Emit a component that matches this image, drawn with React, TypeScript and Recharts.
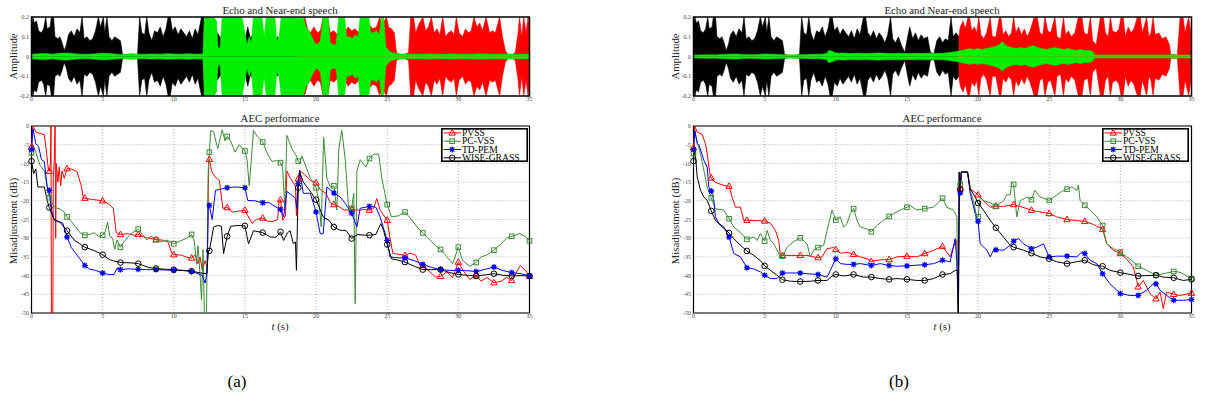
import React from 'react';
import {
  AreaChart,
  Area,
  LineChart,
  Line,
  XAxis,
  YAxis,
  CartesianGrid,
  ReferenceArea,
  Legend,
} from 'recharts';

type Pt = [number, number];

// tick labels
const timeTicks = [0, 5, 10, 15, 20, 25, 30, 35];
const ampTicks = [-0.2, -0.1, 0, 0.1, 0.2];
const dbTicks = [-50, -45, -40, -35, -30, -25, -20, -15, -10, -5, 0];

// waveform envelopes: [time (s), peak amplitude]
// echo before the path change (black), same in (a) and (b)
const echoEarly: Pt[] = [
  [0, 0.15], [0.1, 0.2], [0.2, 0.17], [0.35, 0.18], [0.5, 0.13], [0.7, 0.12], [0.85, 0.14], [1.0, 0.2],
  [1.1, 0.14], [1.3, 0.15], [1.4, 0.2], [1.55, 0.2], [1.65, 0.1], [1.85, 0.09], [2.0, 0.1], [2.15, 0.07],
  [2.3, 0.03], [2.45, 0.06], [2.6, 0.11], [2.8, 0.13], [3.0, 0.1], [3.2, 0.14], [3.4, 0.12], [3.55, 0.2],
  [3.7, 0.09], [3.9, 0.1], [4.1, 0.08], [4.3, 0.09], [4.5, 0.13], [4.7, 0.2], [4.85, 0.15], [5.05, 0.2],
  [5.15, 0.12], [5.3, 0.2], [5.45, 0.1], [5.65, 0.08], [5.85, 0.1], [6.05, 0.09], [6.25, 0.08], [6.4, 0.01],
  [6.75, 0.005], [7.1, 0.005], [7.45, 0.01], [7.6, 0.2], [7.75, 0.12], [7.95, 0.11], [8.1, 0.2], [8.25, 0.12],
  [8.45, 0.08], [8.65, 0.13], [8.85, 0.12], [9.05, 0.15], [9.25, 0.1], [9.45, 0.14], [9.6, 0.2], [9.75, 0.2],
  [9.9, 0.13], [10.1, 0.15], [10.3, 0.11], [10.5, 0.14], [10.7, 0.12], [10.9, 0.1], [11.1, 0.13], [11.3, 0.09],
  [11.5, 0.14], [11.7, 0.11], [11.95, 0.2], [12.1, 0.2], [12.25, 0.12], [12.45, 0.1], [12.65, 0.13], [12.85, 0.09],
  [13.05, 0.12], [13.25, 0.1], [13.45, 0.07], [13.65, 0.11], [13.85, 0.2], [14.0, 0.09], [14.2, 0.07], [14.4, 0.1],
  [14.6, 0.06], [14.85, 0.02], [15.05, 0.1], [15.2, 0.15], [15.4, 0.09], [15.6, 0.12], [15.8, 0.08], [16.0, 0.11],
  [16.2, 0.09], [16.45, 0.1], [16.65, 0.02], [16.9, 0.015], [17.1, 0.08], [17.3, 0.1], [17.5, 0.07], [17.7, 0.09],
  [17.9, 0.08], [18.1, 0.2], [18.25, 0.1], [18.45, 0.12], [18.65, 0.1],
];

// echo after the path change (red)
const echoLateA: Pt[] = [
  [18.65, 0.1], [18.85, 0.15], [19.05, 0.17], [19.2, 0.2], [19.4, 0.14], [19.6, 0.12], [19.85, 0.15], [20.1, 0.12],
  [20.3, 0.13], [20.5, 0.2], [20.65, 0.14], [20.8, 0.2], [21.0, 0.12], [21.25, 0.13], [21.5, 0.11], [21.75, 0.13],
  [22.0, 0.12], [22.25, 0.15], [22.5, 0.13], [22.75, 0.14], [23.0, 0.12], [23.25, 0.15], [23.5, 0.13], [23.75, 0.16],
  [24.0, 0.14], [24.25, 0.15], [24.47, 0.2], [24.65, 0.15], [24.8, 0.18], [24.95, 0.2], [25.1, 0.15], [25.3, 0.14],
  [25.5, 0.12], [25.65, 0.02], [25.9, 0.01], [26.2, 0.01], [26.5, 0.02], [26.65, 0.2], [26.85, 0.2], [27.0, 0.12],
  [27.2, 0.16], [27.5, 0.2], [27.7, 0.13], [27.9, 0.15], [28.1, 0.2], [28.3, 0.12], [28.5, 0.14], [28.7, 0.11],
  [28.9, 0.2], [29.1, 0.1], [29.3, 0.12], [29.5, 0.13], [29.7, 0.11], [29.86, 0.2], [30.05, 0.12], [30.3, 0.1],
  [30.5, 0.14], [30.7, 0.12], [30.9, 0.13], [31.1, 0.2], [31.3, 0.15], [31.5, 0.17], [31.7, 0.13], [31.95, 0.2],
  [32.2, 0.12], [32.4, 0.13], [32.6, 0.12], [32.9, 0.2], [33.1, 0.1], [33.3, 0.03], [33.5, 0.01], [33.8, 0.01],
  [34.0, 0.02], [34.2, 0.12], [34.3, 0.2], [34.45, 0.1], [34.6, 0.2], [34.75, 0.12], [34.9, 0.2], [35, 0.15],
];

const echoLateB: Pt[] = [
  [18.65, 0.1], [18.75, 0.15], [18.95, 0.18], [19.1, 0.14], [19.3, 0.2], [19.4, 0.2], [19.55, 0.13], [19.75, 0.15],
  [19.9, 0.12], [20.05, 0.2], [20.2, 0.11], [20.4, 0.09], [20.6, 0.12], [20.85, 0.2], [21.0, 0.1], [21.25, 0.1],
  [21.5, 0.2], [21.6, 0.2], [21.75, 0.11], [21.95, 0.13], [22.15, 0.1], [22.35, 0.12], [22.5, 0.2], [22.65, 0.12],
  [22.85, 0.15], [23.05, 0.11], [23.25, 0.14], [23.45, 0.1], [23.65, 0.13], [23.95, 0.2], [24.15, 0.2], [24.35, 0.12],
  [24.55, 0.11], [24.7, 0.2], [24.9, 0.13], [25.1, 0.12], [25.4, 0.2], [25.55, 0.1], [25.8, 0.09], [26.0, 0.2],
  [26.15, 0.11], [26.35, 0.13], [26.55, 0.1], [26.8, 0.12], [27.05, 0.2], [27.3, 0.2], [27.45, 0.12], [27.7, 0.11],
  [27.9, 0.2], [28.05, 0.08], [28.3, 0.06], [28.6, 0.2], [28.8, 0.2], [28.95, 0.12], [29.15, 0.1], [29.3, 0.2],
  [29.45, 0.13], [29.7, 0.12], [29.9, 0.14], [30.05, 0.2], [30.2, 0.2], [30.35, 0.1], [30.55, 0.15], [30.75, 0.12],
  [30.95, 0.14], [31.2, 0.2], [31.4, 0.2], [31.55, 0.12], [31.85, 0.2], [32.0, 0.1], [32.15, 0.12], [32.3, 0.2],
  [32.45, 0.11], [32.7, 0.12], [32.95, 0.09], [33.2, 0.1], [33.45, 0.06], [33.55, 0.006], [33.75, 0.012], [34.0, 0.006],
  [34.2, 0.2], [34.4, 0.2], [34.55, 0.12], [34.8, 0.2], [35, 0.1],
];

// near-end speech (green)
const nearEndA: Pt[] = [
  [0, 0.012], [0.5, 0.014], [1, 0.015], [1.5, 0.012], [2, 0.016], [2.5, 0.018], [3, 0.014], [3.5, 0.012],
  [4, 0.011], [4.5, 0.014], [5, 0.017], [5.5, 0.015], [6, 0.012], [6.5, 0.01], [7, 0.015], [7.5, 0.012],
  [8, 0.011], [8.5, 0.013], [9, 0.012], [9.5, 0.014], [10, 0.013], [10.5, 0.012], [11, 0.014], [11.5, 0.012],
  [12.05, 0.013], [12.15, 0.2], [12.4, 0.2], [12.6, 0.2], [12.8, 0.2], [13.0, 0.18], [13.1, 0.05], [13.25, 0.04],
  [13.4, 0.2], [13.6, 0.2], [13.8, 0.2], [14.0, 0.2], [14.2, 0.2], [14.4, 0.2], [14.6, 0.2], [14.8, 0.2],
  [15.0, 0.12], [15.15, 0.06], [15.3, 0.1], [15.45, 0.07], [15.6, 0.2], [15.8, 0.2], [16.0, 0.2], [16.2, 0.2],
  [16.35, 0.1], [16.5, 0.2], [16.7, 0.2], [16.9, 0.2], [17.1, 0.2], [17.25, 0.08], [17.4, 0.1], [17.55, 0.2],
  [17.75, 0.2], [17.95, 0.2], [18.15, 0.2], [18.35, 0.2], [18.55, 0.2], [18.75, 0.2], [18.95, 0.2], [19.1, 0.2],
  [19.3, 0.15], [19.5, 0.13], [19.7, 0.1], [19.9, 0.07], [20.1, 0.06], [20.3, 0.08], [20.5, 0.2], [20.7, 0.2],
  [20.85, 0.2], [21.0, 0.07], [21.2, 0.06], [21.4, 0.06], [21.6, 0.2], [21.8, 0.2], [22.0, 0.2], [22.15, 0.1],
  [22.35, 0.1], [22.55, 0.09], [22.75, 0.11], [22.95, 0.1], [23.1, 0.2], [23.3, 0.2], [23.5, 0.2], [23.7, 0.2],
  [23.85, 0.12], [24.05, 0.12], [24.25, 0.13], [24.45, 0.11], [24.6, 0.2], [24.75, 0.2], [24.9, 0.05], [25.1, 0.03],
  [25.3, 0.02], [25.6, 0.015], [26, 0.013], [26.5, 0.012], [27, 0.012], [27.5, 0.011], [28, 0.013], [28.5, 0.012],
  [29, 0.011], [29.5, 0.013], [30, 0.012], [30.5, 0.011], [31, 0.012], [31.5, 0.013], [32, 0.012], [32.5, 0.011],
  [33, 0.012], [33.5, 0.013], [34, 0.012], [34.5, 0.011], [35, 0.012],
];

const nearEndB: Pt[] = [
  [0, 0.007], [0.5, 0.008], [1, 0.009], [1.5, 0.008], [2, 0.01], [2.5, 0.012], [3, 0.013], [3.5, 0.01],
  [4, 0.009], [4.5, 0.01], [5, 0.013], [5.5, 0.012], [6, 0.01], [6.5, 0.008], [7, 0.009], [7.5, 0.009],
  [8, 0.01], [8.5, 0.011], [9, 0.012], [9.35, 0.015], [9.5, 0.03], [9.7, 0.028], [9.9, 0.02], [10.2, 0.016],
  [10.5, 0.018], [11, 0.015], [11.5, 0.017], [12, 0.015], [12.5, 0.016], [13, 0.018], [13.5, 0.016], [14, 0.015],
  [14.5, 0.017], [15, 0.015], [15.5, 0.016], [16, 0.015], [16.5, 0.017], [17, 0.015], [17.5, 0.016], [18, 0.02],
  [18.5, 0.025], [18.8, 0.03], [19.1, 0.035], [19.4, 0.04], [19.7, 0.035], [20.0, 0.04], [20.3, 0.035], [20.6, 0.04],
  [20.9, 0.045], [21.2, 0.05], [21.5, 0.06], [21.7, 0.075], [21.9, 0.06], [22.1, 0.05], [22.4, 0.045], [22.7, 0.04],
  [23.0, 0.045], [23.3, 0.04], [23.6, 0.05], [23.9, 0.055], [24.2, 0.045], [24.5, 0.04], [24.8, 0.035], [25.1, 0.04],
  [25.4, 0.045], [25.7, 0.04], [26.0, 0.035], [26.3, 0.04], [26.6, 0.035], [26.9, 0.03], [27.2, 0.035], [27.5, 0.03],
  [27.8, 0.03], [28.05, 0.025], [28.2, 0.007], [29, 0.007], [30, 0.007], [31, 0.007], [32, 0.007], [33, 0.007],
  [33.7, 0.008], [33.8, 0.012], [34, 0.007], [35, 0.007],
];

// misadjustment (dB) per algorithm, panel (a)
const pvssA: Pt[] = [
  [0, -5.6], [0.1, 0], [0.3, -1.6], [0.6, -2], [0.9, -2.3], [1.05, -7], [1.2, -12], [1.25, -12.1], [1.33, -10],
  [1.37, 0], [1.4, -50], [1.5, -50], [1.53, -14], [1.6, -9], [1.66, 0], [1.7, -30], [1.74, -10], [1.85, -15],
  [1.95, -11], [2.05, -16], [2.15, -12], [2.3, -14], [2.5, -11.4], [2.8, -11.5], [3.2, -12.2], [3.5, -16],
  [3.65, -19.4], [3.75, -19.3], [4.2, -19.6], [4.6, -19.8], [5, -20], [5.4, -20.8], [5.75, -22], [5.95, -28.5],
  [6.25, -29], [6.8, -28.8], [7.2, -29.2], [7.5, -29], [8, -29.8], [8.5, -30.2], [8.75, -30.4], [9.2, -30.5],
  [9.6, -31], [9.85, -34], [10, -34.4], [10.5, -34.5], [11, -35.2], [11.25, -35.3], [11.5, -34.5], [11.7, -36.8],
  [11.85, -35], [12, -38.5], [12.2, -36], [12.35, -38], [12.45, -10], [12.5, -8.9], [12.65, -12], [12.9, -13.6],
  [13.2, -14.5], [13.45, -22], [13.75, -21.8], [14.1, -23], [14.5, -22.8], [15, -22.5], [15.2, -24], [15.5, -26],
  [15.8, -25], [16.25, -24.6], [16.6, -25.5], [17, -25.5], [17.3, -25], [17.4, -19.9], [17.5, -19.7], [17.65, -25.2],
  [17.85, -24], [17.95, -12], [18.2, -14], [18.55, -16], [18.62, -24], [18.68, -18], [18.75, -14.1], [18.85, -11.9],
  [19.2, -13], [19.6, -14.5], [20, -15.2], [20.3, -17], [20.7, -18], [21, -20.5], [21.25, -21], [21.6, -21.5],
  [22, -22.5], [22.5, -22.3], [23, -22.5], [23.4, -22.3], [23.75, -22.5], [24.05, -22], [24.27, -19.4], [24.5, -22.5],
  [25, -25.2], [25.2, -30], [25.4, -34.1], [25.8, -34.3], [26.25, -34.6], [26.6, -34], [27, -34.5], [27.3, -37.3],
  [27.5, -37.3], [28, -39], [28.4, -40.4], [28.75, -40.2], [29.2, -39], [29.6, -40.5], [30, -36.4], [30.4, -39],
  [30.8, -41], [31.25, -40], [31.6, -41.5], [32, -40.5], [32.5, -41.9], [33, -41.5], [33.4, -40.5], [33.75, -41.3],
  [34.1, -39], [34.35, -37.3], [34.7, -38.5], [35, -40.2],
];

const pcvssA: Pt[] = [
  [0, -7.2], [0.1, -5], [0.3, -7], [0.6, -10.5], [0.9, -12], [1.1, -16], [1.25, -19.2], [1.6, -21.7], [2, -22.2],
  [2.3, -23], [2.5, -24.3], [2.8, -25.5], [3.1, -27], [3.4, -28.5], [3.75, -29.2], [4.1, -29], [4.4, -28.5],
  [4.7, -29.5], [5, -29.2], [5.2, -28], [5.35, -25.7], [5.5, -29.5], [5.7, -30], [5.85, -33], [6, -30.5],
  [6.25, -32.4], [6.5, -31], [6.8, -29.5], [7.1, -28.5], [7.5, -27.6], [7.8, -29], [8.1, -30.5], [8.4, -29.5],
  [8.75, -30.4], [9.1, -31], [9.5, -30.5], [10, -31.5], [10.3, -31], [10.6, -30.5], [10.9, -30], [11.25, -29],
  [11.45, -31], [11.6, -37], [11.7, -32], [11.85, -40], [11.95, -46.6], [12.05, -33], [12.15, -50], [12.3, -50],
  [12.42, -12], [12.5, -7], [12.6, -1.2], [12.8, -1.5], [12.95, -4], [13.1, -6], [13.4, -1], [13.6, -4],
  [13.75, -2.8], [14, -4], [14.3, -7], [14.6, -5], [15, -6.7], [15.15, -9], [15.3, -16], [15.45, -9], [15.6, -1.2],
  [15.9, -3], [16.25, -4.3], [16.6, -7.5], [16.9, -9.5], [17.2, -9.2], [17.5, -9.8], [17.65, -11], [17.8, -21.7],
  [17.95, -2.5], [18.3, -6], [18.62, -8], [18.75, -9.4], [18.85, -10], [19, -8], [19.3, -11], [19.6, -14],
  [20, -16.5], [20.2, -20], [20.36, -27], [20.53, -3], [20.76, -14], [21, -16.3], [21.25, -16], [21.46, -22.5],
  [21.6, -6], [21.81, -1.2], [22.05, -9], [22.28, -21.7], [22.5, -22], [22.65, -18], [22.75, -47.5], [22.87, -12],
  [23.1, -9], [23.5, -11], [23.75, -8.7], [24.05, -7.5], [24.4, -7.5], [24.62, -14], [25, -21], [25.3, -24.3],
  [25.8, -24], [26.25, -23], [26.7, -25], [27.1, -27], [27.5, -28.6], [28, -30.5], [28.4, -32], [28.75, -33],
  [29.2, -35], [29.6, -36.8], [30, -32.4], [30.3, -36], [30.8, -37.5], [31.25, -36.5], [31.6, -35], [32, -34.5],
  [32.5, -33.2], [33, -31.5], [33.4, -30], [33.75, -29.5], [34.3, -28.8], [34.7, -29.5], [35, -30.7],
];

const tdpemA: Pt[] = [
  [0, -6.3], [0.1, -0.7], [0.3, -4.7], [0.5, -5.5], [0.7, -9], [0.9, -9.5], [1.1, -16.3], [1.25, -17.2],
  [1.4, -22.5], [1.6, -25], [1.9, -25.5], [2.2, -26], [2.5, -29.7], [2.8, -32.5], [3.1, -34], [3.4, -35.5],
  [3.75, -37.3], [4.1, -38.3], [4.5, -38.6], [5, -39.3], [5.4, -39.7], [5.8, -39.7], [6, -38], [6.25, -38.4],
  [6.8, -38.2], [7.5, -38.3], [8.1, -38.4], [8.75, -38.4], [9.4, -38.5], [10, -38.6], [10.6, -38.6], [11.25, -38.9],
  [11.7, -39.5], [12, -40], [12.2, -42], [12.35, -39], [12.42, -21.7], [12.5, -21.2], [12.7, -25], [12.93, -17.2],
  [13.4, -16.8], [13.75, -16.5], [14.3, -16.3], [15, -16.5], [15.2, -19.9], [15.7, -20], [16.25, -20.5], [16.7, -20.5],
  [17.1, -21.5], [17.5, -22.3], [17.72, -24.3], [17.95, -17.5], [18.3, -18.5], [18.55, -19.4], [18.65, -22],
  [18.75, -15.4], [18.85, -11.9], [19.1, -18], [19.6, -18], [20, -23], [20.29, -28.8], [20.5, -28.8], [20.76, -16.3],
  [21.25, -17.9], [21.7, -19], [22.1, -21], [22.5, -23.3], [22.87, -27], [23.1, -22], [23.75, -21.5], [24.2, -21.7],
  [24.5, -24.3], [25, -30.6], [25.2, -35], [25.6, -35.2], [26.25, -35.3], [26.9, -36], [27.5, -37], [28.1, -37.8],
  [28.75, -38.4], [29.4, -38.6], [30, -38.6], [30.6, -38.7], [31.25, -38.9], [31.9, -38.3], [32.5, -37.7],
  [33.1, -38.6], [33.75, -39.2], [34.4, -39.5], [35, -40.1],
];

const wiseA: Pt[] = [
  [0, -9.4], [0.15, -12.7], [0.3, -11.5], [0.45, -16.3], [0.9, -16.3], [1.1, -19.9], [1.25, -21.8], [1.6, -25.2],
  [2, -25.7], [2.5, -28], [3, -30.5], [3.4, -31.5], [3.75, -32.4], [4.4, -33.3], [5, -34.4], [5.5, -35.8],
  [6.25, -36.5], [7, -36.6], [7.5, -36.8], [8.2, -37.8], [8.75, -38.1], [9.4, -38.3], [10, -38.4], [10.6, -38.6],
  [11.25, -38.8], [11.9, -39.3], [12.3, -39.5], [12.45, -33.2], [12.5, -33.4], [12.8, -27], [13.1, -26.6],
  [13.35, -26.8], [13.5, -34.1], [13.75, -29.5], [14, -26.8], [14.5, -26.6], [15, -26.7], [15.25, -31.5], [15.6, -28],
  [16.25, -28.5], [16.8, -29.7], [17.2, -29.7], [17.5, -28.3], [17.72, -30.6], [18, -28.5], [18.18, -28], [18.4, -31.5],
  [18.55, -31], [18.62, -38.6], [18.7, -24], [18.75, -16.5], [18.85, -12.3], [19.1, -15], [19.5, -17], [20, -19.7],
  [20.5, -24.3], [20.9, -25.2], [21.25, -27], [21.7, -27.9], [22.1, -27.9], [22.5, -30.1], [22.9, -29], [23.4, -29.2],
  [23.75, -29.2], [24.2, -29], [24.55, -26.1], [24.75, -28], [25, -31.7], [25.3, -35.5], [25.7, -35.8], [26.25, -36.4],
  [26.9, -37.5], [27.5, -38.4], [28.1, -38.4], [28.75, -38.4], [29.4, -39.2], [30, -39.7], [30.6, -39.9],
  [31.25, -40.1], [31.9, -39.8], [32.5, -39.5], [33.1, -39.9], [33.75, -40.1], [34.4, -40], [35, -40.1],
];

// misadjustment (dB) per algorithm, panel (b)
const pvssB: Pt[] = [
  [0, -5.8], [0.09, 0], [0.26, -1.6], [0.6, -2.2], [0.84, -4.7], [0.96, -7.5], [1.19, -13.6], [1.25, -13.9],
  [1.5, -15], [2.2, -16], [2.5, -16.1], [2.71, -19], [2.95, -21.7], [3.3, -21.7], [3.53, -25.2], [3.75, -25.2],
  [4.4, -25.3], [5, -25.4], [5.41, -26], [5.76, -27.9], [5.99, -30.6], [6.11, -34.6], [6.25, -34.6], [6.9, -34.6],
  [7.5, -34.6], [7.98, -34.6], [8.45, -35], [8.75, -35.2], [9.03, -35], [9.38, -32.8], [9.85, -32.5], [10, -33],
  [10.32, -34], [10.8, -33.8], [11.25, -34.3], [11.72, -35], [12.2, -35.5], [12.5, -36.2], [13.1, -35.8],
  [13.75, -35.7], [14.3, -35], [15, -34.8], [15.7, -35], [16.25, -34.1], [16.9, -33.2], [17.5, -32.2], [18.04, -35],
  [18.28, -32.2], [18.51, -30.6], [18.6, -50], [18.68, -12.3], [18.75, -16.8], [18.82, -12.3], [19.26, -12.3],
  [19.45, -16.8], [20, -18.4], [20.5, -20.5], [20.85, -21.7], [21.25, -21.4], [21.79, -21.5], [22.5, -21],
  [22.96, -21.5], [23.75, -22.5], [24.36, -23], [25, -23.4], [25.53, -24.3], [26.25, -25], [26.94, -25.3],
  [27.5, -25.5], [28.1, -26.3], [28.34, -26.8], [28.75, -27.6], [29.04, -31.5], [29.51, -33.2], [30, -34.1],
  [30.45, -35.6], [30.91, -37.7], [31.15, -41.3], [31.25, -43], [31.62, -41.3], [32.08, -44.8], [32.5, -46.2],
  [32.79, -44.4], [33.02, -48.8], [33.25, -44.4], [33.75, -45], [34.19, -45.3], [35, -44.7],
];

const pcvssB: Pt[] = [
  [0, -7.4], [0.09, -1.2], [0.26, -4.3], [0.49, -7.4], [0.73, -11.9], [0.96, -16.3], [1.25, -19.2], [1.54, -22.1],
  [2.13, -22.5], [2.5, -24.8], [2.83, -27], [3.3, -28.5], [3.75, -30.3], [4.24, -29.7], [4.47, -30.6], [4.7, -28.8],
  [5, -30.8], [5.17, -27.9], [5.41, -30.6], [5.64, -31.5], [5.87, -33.2], [6.11, -35], [6.25, -34.8], [6.58, -32.4],
  [7, -31], [7.5, -29.9], [7.98, -31.5], [8.21, -35], [8.45, -33.2], [8.75, -32.5], [9.15, -31.9], [9.5, -26.1],
  [9.74, -22.5], [10, -25.2], [10.32, -24.3], [10.55, -27], [10.79, -26.1], [11.02, -23.4], [11.25, -22.1],
  [11.49, -25.2], [11.72, -27], [12.19, -27.5], [12.5, -28.3], [12.9, -26.6], [13.36, -25.2], [13.75, -24.2],
  [14.06, -23.4], [14.53, -22.5], [15, -21.7], [15.25, -21.3], [15.7, -22.5], [16.25, -22.1], [16.87, -21.7],
  [17.5, -19.3], [17.8, -21.7], [18.28, -22.5], [18.51, -24.3], [18.6, -50], [18.68, -12.3], [18.75, -15.6],
  [18.82, -12.3], [19.26, -12.3], [19.45, -17.5], [19.68, -20], [19.9, -24.3], [20, -24.3], [20.15, -19],
  [20.38, -20], [20.85, -20.5], [21.25, -21.5], [21.79, -20], [22.02, -18.4], [22.26, -18.4], [22.37, -15],
  [22.5, -15.6], [22.72, -24.3], [22.96, -20], [23.43, -19], [23.75, -19.7], [24, -17.2], [24.36, -19], [25, -19.9],
  [25.53, -18.4], [25.88, -17.5], [26.25, -16.9], [26.59, -16.3], [26.94, -17.2], [27.05, -15.8], [27.17, -19.9],
  [27.5, -21.2], [27.87, -22.5], [28.34, -24.3], [28.75, -26.6], [29.04, -31.5], [29.51, -32.8], [30, -33.7],
  [30.45, -35], [30.91, -36.3], [31.25, -37.5], [31.85, -38.6], [32.5, -39.9], [33.02, -39.5], [33.75, -38.9],
  [34.19, -39.1], [35, -40.8],
];

const tdpemB: Pt[] = [
  [0, -6.3], [0.09, -1.2], [0.26, -4.7], [0.4, -5.2], [0.73, -9.2], [0.96, -11], [1.08, -16.3], [1.25, -17.4],
  [1.43, -19.9], [1.54, -24.3], [1.78, -26], [2.13, -27], [2.5, -29.7], [2.83, -34.1], [3.3, -35], [3.75, -37.9],
  [4.24, -38.2], [4.7, -39], [5, -39.9], [5.41, -40.8], [5.87, -40.8], [6.25, -39.3], [6.81, -39.3], [7.5, -39.3],
  [7.98, -39.5], [8.75, -39.7], [9.38, -40.4], [9.62, -38.6], [10, -35.5], [10.32, -36.8], [10.8, -37], [11.25, -37],
  [11.72, -36.8], [12.5, -37.3], [13.13, -36.8], [13.75, -37.3], [14.3, -37.5], [15, -37.4], [15.7, -37.2],
  [16.25, -37.1], [16.87, -36.8], [17.5, -35.9], [18.04, -36.3], [18.39, -30.1], [18.5, -36], [18.62, -50],
  [18.68, -12.3], [18.75, -17.9], [18.82, -12.3], [19.26, -12.3], [19.45, -18], [19.8, -23.4], [20, -25.5],
  [20.15, -31.5], [20.62, -33.2], [20.85, -35], [21.09, -33.2], [21.25, -33.1], [21.79, -33.2], [22.26, -31.9],
  [22.5, -30.8], [22.84, -30.1], [23.19, -31.5], [23.75, -32.8], [24.13, -32.4], [24.6, -31.5], [25, -35],
  [25.53, -34.8], [26.25, -34.8], [26.94, -35], [27.29, -33.7], [27.5, -34.1], [27.87, -35.9], [28.34, -36.8],
  [28.75, -39.5], [29.27, -42.2], [30, -44.8], [30.68, -45.3], [31.25, -45.3], [31.85, -43.9], [32.32, -42.2],
  [32.5, -42.2], [32.79, -43.9], [33.25, -45.3], [33.75, -46.6], [34.42, -46.6], [35, -46.4],
];

const wiseB: Pt[] = [
  [0, -9.4], [0.09, -5.6], [0.26, -13.6], [0.49, -17.2], [0.73, -19], [0.96, -19.9], [1.25, -22.7], [1.54, -25.2],
  [1.9, -26.6], [2.5, -28.6], [2.83, -30.1], [3.3, -31.9], [3.75, -33.4], [4.24, -34.6], [4.7, -36], [5, -37.4],
  [5.41, -38.6], [5.87, -39.9], [6.25, -41.1], [6.81, -41.5], [7.5, -41.6], [8.21, -41.5], [8.75, -41.3],
  [9.38, -41.3], [9.74, -40.1], [10, -39.7], [10.55, -40.1], [11.25, -39.7], [11.96, -40.4], [12.5, -40.4],
  [13.13, -40.8], [13.75, -41], [14.3, -40.8], [15, -41], [15.7, -41.3], [16.25, -41.3], [16.87, -40.8],
  [17.5, -39.7], [18.04, -39.5], [18.39, -38.6], [18.55, -38.6], [18.62, -50], [18.68, -12.3], [18.75, -16.9],
  [18.82, -12.3], [19.26, -12.3], [19.45, -16.8], [19.8, -19], [20, -20.6], [20.38, -22.5], [20.85, -25.2],
  [21.25, -27.2], [21.79, -29.7], [22.26, -31.9], [22.5, -32.4], [23.19, -33.2], [23.75, -34], [24.36, -35],
  [25, -35.5], [25.53, -36.3], [26.25, -36.8], [26.94, -36.3], [27.5, -35.9], [28.1, -37.1], [28.75, -37.5],
  [29.27, -38.6], [30, -39.2], [30.68, -39.7], [31.25, -40.1], [32.5, -39.9], [33.02, -40.4], [33.75, -40.6],
  [34.42, -41.3], [35, -41],
];

const seriesInfo = [
  { key: 'pvss', name: 'PVSS', color: '#ff0000', marker: 'triangle' },
  { key: 'pcvss', name: 'PC-VSS', color: '#3d8b37', marker: 'square' },
  { key: 'tdpem', name: 'TD-PEM', color: '#0000ff', marker: 'star' },
  { key: 'wise', name: 'WISE-GRASS', color: '#000000', marker: 'circle' },
];

const serif = "'Liberation Serif', 'DejaVu Serif', serif";
const tickStyle = { fontSize: 6, fill: '#444', fontFamily: serif };

// join several [t, v] lists into one table keyed by t
function mergeSeries(series: Record<string, Pt[]>) {
  const rows = new Map<number, any>();
  Object.entries(series).forEach(([key, pts]) => {
    pts.forEach(([t, v]) => {
      const row = rows.get(t) ?? { t };
      row[key] = v;
      rows.set(t, row);
    });
  });
  return Array.from(rows.values()).sort((a, b) => a.t - b.t);
}

const neg = (pts: Pt[]): Pt[] => pts.map(([t, a]) => [t, -a] as Pt);

const waveTable = (late: Pt[], near: Pt[]) =>
  mergeSeries({
    ku: echoEarly, kd: neg(echoEarly),
    ru: late, rd: neg(late),
    gu: near, gd: neg(near),
  });

const waveA = waveTable(echoLateA, nearEndA);
const waveB = waveTable(echoLateB, nearEndB);
const perfA = mergeSeries({ pvss: pvssA, pcvss: pcvssA, tdpem: tdpemA, wise: wiseA });
const perfB = mergeSeries({ pvss: pvssB, pcvss: pcvssB, tdpem: tdpemB, wise: wiseB });

const Marker = ({ kind, x, y, color }: { kind: string; x: number; y: number; color: string }) => {
  if (kind === 'triangle') {
    return (
      <polygon
        points={`${x},${y - 3.4} ${x + 3.2},${y + 2.2} ${x - 3.2},${y + 2.2}`}
        fill="none"
        stroke={color}
        strokeWidth={1}
      />
    );
  }
  if (kind === 'square') {
    return <rect x={x - 2.3} y={y - 2.3} width={4.6} height={4.6} fill="none" stroke={color} strokeWidth={1} />;
  }
  if (kind === 'circle') {
    return <circle cx={x} cy={y} r={2.8} fill="none" stroke={color} strokeWidth={1} />;
  }
  return (
    <g stroke={color} strokeWidth={1.1}>
      <line x1={x - 3} y1={y} x2={x + 3} y2={y} />
      <line x1={x} y1={y - 3} x2={x} y2={y + 3} />
      <line x1={x - 2.2} y1={y - 2.2} x2={x + 2.2} y2={y + 2.2} />
      <line x1={x - 2.2} y1={y + 2.2} x2={x + 2.2} y2={y - 2.2} />
      <circle cx={x} cy={y} r={1.5} fill={color} />
    </g>
  );
};

const isMarkerTime = (t: number) => Math.abs(t / 1.25 - Math.round(t / 1.25)) < 1e-6;

// legend rows follow the series order, not the payload order
const LegendBox = () => (
  <svg width={87} height={34} style={{ display: 'block', overflow: 'visible' }}>
    <rect x={0.8} y={0.8} width={85.4} height={32.4} fill="#fff" stroke="#000" strokeWidth={1.6} />
    {seriesInfo.map((s, i) => {
      const y = 4.9 + i * 8.3;
      return (
        <g key={s.key}>
          <line x1={2.5} x2={20} y1={y} y2={y} stroke={s.color} strokeWidth={1} />
          <Marker kind={s.marker} x={11.2} y={y} color={s.color} />
          <text x={21} y={y + 3.2} fontSize={9.6} fontFamily={serif} fill="#000">
            {s.name}
          </text>
        </g>
      );
    })}
  </svg>
);

const WaveChart = ({ left, data }: { left: number; data: any[] }) => (
  <div style={{ position: 'absolute', left, top: 0 }}>
    <AreaChart width={545} height={110} data={data} margin={{ top: 17, right: 15.5, bottom: 4, left: 1.5 }}>
      <XAxis
        dataKey="t"
        type="number"
        domain={[0, 35]}
        ticks={timeTicks}
        interval={0}
        height={10}
        tickLine={false}
        axisLine={false}
        tickSize={1}
        tickMargin={0}
        tick={tickStyle}
      />
      <YAxis
        type="number"
        domain={[-0.2, 0.2]}
        ticks={ampTicks}
        interval={0}
        allowDataOverflow
        width={30}
        tickLine={false}
        axisLine={false}
        tickSize={2}
        tickMargin={0.5}
        tick={tickStyle}
      />
      {[
        ['ku', '#000000'], ['kd', '#000000'],
        ['ru', '#ff0000'], ['rd', '#ff0000'],
        ['gu', '#00ee00'], ['gd', '#00ee00'],
      ].map(([key, color]) => (
        <Area
          key={key}
          dataKey={key}
          type="linear"
          baseValue={0}
          connectNulls
          stroke={color}
          strokeWidth={0.6}
          fill={color}
          fillOpacity={1}
          dot={false}
          activeDot={false}
          isAnimationActive={false}
        />
      ))}
      <ReferenceArea x1={0} x2={35} y1={-0.2} y2={0.2} fill="none" fillOpacity={0} stroke="#000" strokeWidth={1.5} />
    </AreaChart>
  </div>
);

const PerfChart = ({ left, data }: { left: number; data: any[] }) => (
  <div style={{ position: 'absolute', left, top: 110 }}>
    <LineChart width={545} height={220} data={data} margin={{ top: 16, right: 15.5, bottom: 7, left: 1.5 }}>
      <CartesianGrid stroke="#9a9a9a" strokeDasharray="1 2" strokeWidth={0.8} />
      <XAxis
        dataKey="t"
        type="number"
        domain={[0, 35]}
        ticks={timeTicks}
        interval={0}
        height={10}
        tickLine={false}
        axisLine={false}
        tickSize={1}
        tickMargin={0}
        tick={tickStyle}
      />
      <YAxis
        type="number"
        domain={[-50, 0]}
        ticks={dbTicks}
        interval={0}
        allowDataOverflow
        width={30}
        tickLine={false}
        axisLine={false}
        tickSize={2}
        tickMargin={0.5}
        tick={tickStyle}
      />
      {seriesInfo.map((s) => (
        <Line
          key={s.key}
          name={s.name}
          dataKey={s.key}
          type="linear"
          stroke={s.color}
          strokeWidth={1}
          connectNulls
          activeDot={false}
          isAnimationActive={false}
          dot={(p: any) => {
            const k = `${s.key}-${p.index}`;
            if (p.value == null || p.cx == null || p.cy == null || !isMarkerTime(p.payload.t)) {
              return <g key={k} />;
            }
            return (
              <g key={k}>
                <Marker kind={s.marker} x={p.cx} y={p.cy} color={s.color} />
              </g>
            );
          }}
        />
      ))}
      <ReferenceArea x1={0} x2={35} y1={-50} y2={0} fill="none" fillOpacity={0} stroke="#000" strokeWidth={1.2} />
      <Legend
        layout="vertical"
        align="center"
        verticalAlign="middle"
        width={87}
        height={34}
        wrapperStyle={{ left: 440.5, top: 18, width: 87, height: 34 }}
        content={LegendBox}
      />
    </LineChart>
  </div>
);

const PanelText = ({ cx, name }: { cx: number; name: string }) => {
  const labelX = cx - 267.5;
  return (
    <g fontFamily={serif} fill="#222">
      <text x={cx} y={10} fontSize={10.8} textAnchor="middle" dominantBaseline="central">
        Echo and Near-end speech
      </text>
      <text x={cx} y={117.5} fontSize={10.8} textAnchor="middle" dominantBaseline="central">
        AEC performance
      </text>
      <text
        x={labelX}
        y={56.5}
        fontSize={10.8}
        textAnchor="middle"
        dominantBaseline="central"
        transform={`rotate(-90 ${labelX} 56.5)`}
      >
        Amplitude
      </text>
      <text
        x={labelX + 0.5}
        y={221}
        fontSize={10.8}
        textAnchor="middle"
        dominantBaseline="central"
        transform={`rotate(-90 ${labelX + 0.5} 221)`}
      >
        Misadjustment (dB)
      </text>
      <text x={cx} y={325.5} fontSize={10.8} textAnchor="middle" dominantBaseline="central">
        <tspan fontStyle="italic">t</tspan> (s)
      </text>
      <text x={cx - 43} y={381.5} fontSize={17} textAnchor="middle" dominantBaseline="central" fill="#000">
        {name}
      </text>
    </g>
  );
};

export default function App() {
  return (
    <div
      style={{
        position: 'absolute',
        left: 0,
        top: 0,
        width: 1209,
        height: 405,
        background: '#fff',
        overflow: 'hidden',
      }}
    >
      <WaveChart left={0} data={waveA} />
      <PerfChart left={0} data={perfA} />
      <WaveChart left={661.5} data={waveB} />
      <PerfChart left={661.5} data={perfB} />
      <svg
        width={1209}
        height={405}
        style={{ position: 'absolute', left: 0, top: 0, pointerEvents: 'none' }}
      >
        <PanelText cx={280} name="(a)" />
        <PanelText cx={942} name="(b)" />
      </svg>
    </div>
  );
}
